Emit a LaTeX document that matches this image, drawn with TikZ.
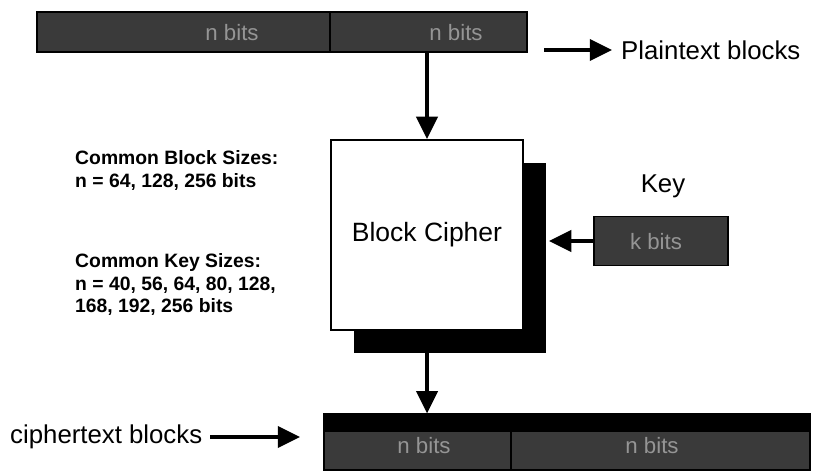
\documentclass[tikz,border=0pt]{standalone}
\usepackage{fontspec}
\setmainfont{Liberation Sans}
\usetikzlibrary{arrows.meta, shadows}

\definecolor{bargray}{HTML}{3A3A3A}
\definecolor{bartext}{HTML}{959595}

\begin{document}
\begin{tikzpicture}[x=0.03cm, y=-0.03cm,
    bar/.style={draw=black, line width=1pt, fill=bargray, inner sep=0pt},
    ctbar/.style={bar, path picture={\fill[black] (path picture bounding box.north west)
      rectangle ([yshift=-0.55cm]path picture bounding box.north east);}},
    bits/.style={text=bartext, inner sep=0pt, font=\fontsize{19}{22}\selectfont},
    flow/.style={-{Triangle[length=19pt, width=18pt]}, line width=3pt},
    cipherbox/.style={draw=black, line width=1.8pt, fill=white,
      minimum width=5.76cm, minimum height=5.7cm, font=\fontsize{22.6}{26}\selectfont,
      drop shadow={shadow xshift=0.69cm, shadow yshift=-0.69cm, fill=black, opacity=1}},
    blocktext/.style={inner sep=0pt, font=\fontsize{22}{26}\selectfont},
    note/.style={align=left, inner sep=0pt, font=\bfseries\fontsize{16.5}{19.5}\selectfont}]
  \useasboundingbox (0,0) rectangle (824,474);
  % plaintext
  \node[bar, minimum width=8.79cm, minimum height=1.2cm] (pt1) at (183.5,32) {};
  \node[bar, minimum width=5.91cm, minimum height=1.2cm] (pt2) at (428.5,32) {};
  \node[bits] (pt1bits) at (232,33) {n bits};
  \node[bits] (pt2bits) at (456,33) {n bits};
  \node[blocktext, anchor=west] (ptlabel) at (621,50) {Plaintext blocks};
  \draw[flow] ([xshift=0.5cm]pt2.east |- ptlabel.west) -- ([xshift=-0.27cm]ptlabel.west);
  % cipher and key
  \node[cipherbox] (cipher) at (427,235) {Block Cipher};
  \node[blocktext] (keylabel) at (663,186) {Key};
  \node[bar, minimum width=4.02cm, minimum height=1.47cm] (key) at (661,241) {};
  \node[bits] (keybits) at (656,242) {k bits};
  \coordinate (keyin) at (549,241);
  \coordinate (cout) at (427,353);
  \draw[flow] (cipher.north |- pt2.south) -- (cipher.north);
  \draw[flow] (key.west) -- (keyin);
  % ciphertext
  \node[ctbar, minimum width=5.61cm, minimum height=1.68cm] (ct1) at (417.5,442) {};
  \node[ctbar, minimum width=8.97cm, minimum height=1.68cm] (ct2) at (660.5,442) {};
  \node[bits] (ct1bits) at (424,446) {n bits};
  \node[bits] (ct2bits) at (652,446) {n bits};
  \node[blocktext, anchor=west] (ctlabel) at (10,437) {ciphertext blocks};
  \draw[flow] (cout) -- (cout |- ct1.north);
  \draw[flow] ([xshift=0.24cm]ctlabel.east) -- ([xshift=-0.7cm]ct1.west |- ctlabel.east);
  % sizes
  \node[note, anchor=north west] (blocksizes) at (75,150) {Common Block Sizes:\\n = 64, 128, 256 bits};
  \node[note, anchor=north west] (keysizes) at (75,253) {Common Key Sizes:\\n = 40, 56, 64, 80, 128,\\168, 192, 256 bits};
\end{tikzpicture}
\end{document}
